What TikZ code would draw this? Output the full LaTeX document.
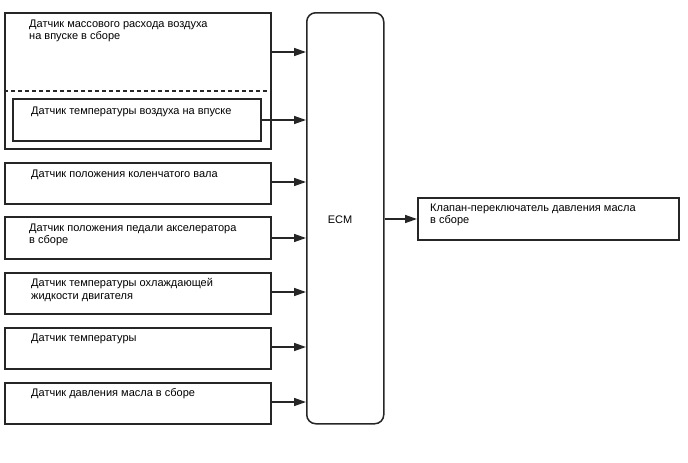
\documentclass[tikz,border=0pt]{standalone}
\usepackage{fontspec}
\setmainfont{Liberation Sans}
\usetikzlibrary{arrows.meta}
\begin{document}
\begin{tikzpicture}[x=1pt,y=-1pt,
  box/.style={draw=black!85,line width=1.5pt,rectangle,inner sep=0pt,anchor=north west},
  lbl/.style={anchor=north west,inner sep=0pt,align=left,font=\fontsize{11}{12.5}\selectfont,text=black},
  arr/.style={draw=black!85,line width=1.5pt,-{Triangle[length=12pt,width=8pt]}}]
\useasboundingbox (0,0) rectangle (688,463);
% sensor boxes
\node[box,minimum width=266pt,minimum height=136pt] (b1) at (4,12) {};
\node[box,minimum width=248pt,minimum height=42pt] (b1i) at (12,98) {};
\node[box,minimum width=266pt,minimum height=41pt] (b2) at (4,162) {};
\node[box,minimum width=266pt,minimum height=42pt] (b3) at (4,216) {};
\node[box,minimum width=266pt,minimum height=41pt] (b4) at (4,272) {};
\node[box,minimum width=266pt,minimum height=41pt] (b5) at (4,327) {};
\node[box,minimum width=266pt,minimum height=41pt] (b6) at (4,382) {};
\draw[draw=black!85,line width=1.3pt,dash pattern=on 4pt off 3pt] (b1.west |- 0,91) -- (b1.east |- 0,91);
% labels
\node[lbl] (t1) at (29,19.5) {Датчик массового расхода воздуха\\на впуске в сборе};
\node[lbl] (t1i) at (31,106.5) {Датчик температуры воздуха на впуске};
\node[lbl] (t2) at (31,169.5) {Датчик положения коленчатого вала};
\node[lbl] (t3) at (29,223.5) {Датчик положения педали акселератора\\в сборе};
\node[lbl] (t4) at (31,278.5) {Датчик температуры охлаждающей\\жидкости двигателя};
\node[lbl] (t5) at (31,333.5) {Датчик температуры};
\node[lbl] (t6) at (31,388.5) {Датчик давления масла в сборе};
% ECM
\node[draw=black!85,line width=1.5pt,rounded corners=9pt,minimum width=77pt,minimum height=411pt,anchor=north west,inner sep=0pt] (ecm) at (306,12) {};
\node[font=\fontsize{11}{12.5}\selectfont] (ecmt) at (340,219.5) {ECM};
% output box
\node[box,minimum width=261pt,minimum height=42pt] (out) at (417,197) {};
\node[lbl] (tout) at (430,203.5) {Клапан-переключатель давления масла\\в сборе};
% arrows
\draw[arr] (b1.east |- 0,52) -- (ecm.west |- 0,52);
\draw[arr] (b1i.east |- 0,120) -- (ecm.west |- 0,120);
\draw[arr] (b2.east |- 0,182) -- (ecm.west |- 0,182);
\draw[arr] (b3.east |- 0,238) -- (ecm.west |- 0,238);
\draw[arr] (b4.east |- 0,292) -- (ecm.west |- 0,292);
\draw[arr] (b5.east |- 0,347) -- (ecm.west |- 0,347);
\draw[arr] (b6.east |- 0,402) -- (ecm.west |- 0,402);
\draw[arr] (ecm.east |- 0,219) -- (out.west |- 0,219);
\end{tikzpicture}
\end{document}
